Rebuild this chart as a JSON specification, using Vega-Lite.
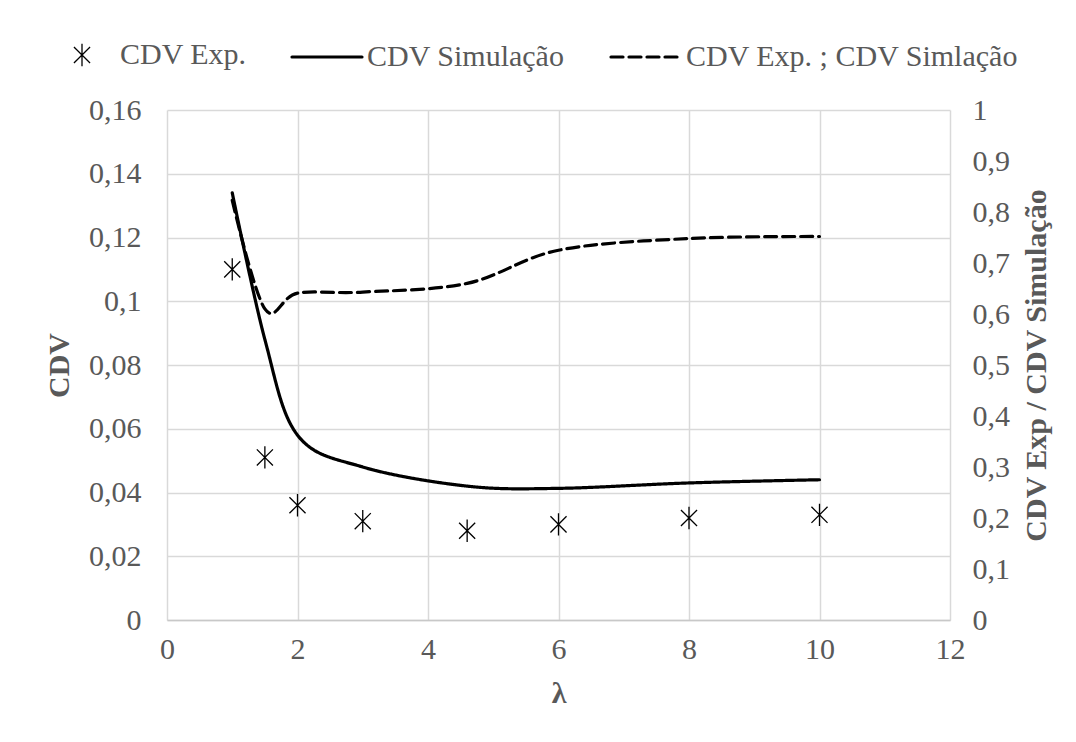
{
  "$schema": "https://vega.github.io/schema/vega-lite/v6.json",
  "autosize": {"type": "none"},
  "padding": {"left": 167, "top": 110, "right": 126, "bottom": 122},
  "width": 783,
  "height": 510,
  "background": "white",
  "data": {"values": [
    {"lambda": 1, "exp": 0.110, "sim": 0.134, "ratio": 0.823},
    {"lambda": 1.5, "exp": 0.051, "sim": 0.088, "ratio": 0.61},
    {"lambda": 2, "exp": 0.036, "sim": 0.058, "ratio": 0.641},
    {"lambda": 3, "exp": 0.031, "sim": 0.048, "ratio": 0.643},
    {"lambda": 4.6, "exp": 0.028, "sim": 0.042, "ratio": 0.66},
    {"lambda": 6, "exp": 0.030, "sim": 0.0413, "ratio": 0.725},
    {"lambda": 8, "exp": 0.032, "sim": 0.043, "ratio": 0.748},
    {"lambda": 10, "exp": 0.033, "sim": 0.044, "ratio": 0.752}
  ]},
  "config": {
    "view": {"stroke": null},
    "font": "Liberation Serif",
    "axis": {
      "labelFont": "Liberation Serif",
      "labelFontSize": 30,
      "labelColor": "#595959",
      "titleFont": "Liberation Serif",
      "titleFontSize": 30,
      "titleFontWeight": "bold",
      "titleColor": "#595959",
      "ticks": false,
      "gridColor": "#d9d9d9",
      "gridWidth": 1.5
    },
    "legend": {
      "labelFont": "Liberation Serif",
      "labelFontSize": 30,
      "labelColor": "#595959",
      "labelLimit": 500,
      "padding": 0
    }
  },
  "resolve": {"scale": {"y": "independent"}},
  "layer": [
    {
      "layer": [
        {
          "mark": {"type": "line", "interpolate": "cardinal", "strokeWidth": 3.2, "color": "black", "strokeCap": "round"},
          "encoding": {
            "x": {"field": "lambda", "type": "quantitative",
              "scale": {"domain": [0, 12], "nice": false},
              "axis": {"values": [0, 2, 4, 6, 8, 10, 12], "format": "d", "title": "λ", "labelPadding": 14, "titlePadding": 14, "domainColor": "#c8c8c8", "domainWidth": 1.5, "labelFlush": false}},
            "y": {"field": "sim", "type": "quantitative",
              "scale": {"domain": [0, 0.16], "nice": false},
              "axis": {"values": [0, 0.02, 0.04, 0.06, 0.08, 0.1, 0.12, 0.14, 0.16], "title": "CDV", "domain": false, "labelPadding": 26, "titlePadding": 14,
                "labelExpr": "replace(format(datum.value, '~g'), '.', ',')"}},
            "strokeDash": {"datum": "CDV Simulação", "type": "nominal",
              "scale": {"domain": ["CDV Simulação", "CDV Exp. ; CDV Simlação"], "range": [[1, 0], [12, 6]]},
              "legend": {"title": null, "orient": "none", "direction": "horizontal", "legendX": 123, "legendY": -90,
                "symbolType": "stroke", "symbolSize": 4900, "symbolStrokeWidth": 3.2, "symbolStrokeColor": "black",
                "labelOffset": 3, "columnPadding": 39,
                "encode": {"symbols": {"update": {"strokeCap": {"value": "round"}}}}}}
          }
        },
        {
          "mark": {"type": "point", "filled": false, "color": "black", "strokeWidth": 1.3, "size": 500, "opacity": 1},
          "encoding": {
            "x": {"field": "lambda", "type": "quantitative"},
            "y": {"field": "exp", "type": "quantitative"},
            "shape": {"datum": "CDV Exp.", "type": "nominal",
              "scale": {"domain": ["CDV Exp."], "range": ["M0,-1L0,1M-0.72,-0.72L0.72,0.72M-0.72,0.72L0.72,-0.72"]},
              "legend": {"title": null, "orient": "none", "direction": "horizontal", "legendX": -100, "legendY": -70,
                "symbolSize": 500, "symbolStrokeWidth": 1.3, "symbolStrokeColor": "black", "labelOffset": 23}}
          }
        }
      ]
    },
    {
      "mark": {"type": "line", "interpolate": "cardinal", "strokeWidth": 3.2, "color": "black", "strokeCap": "round"},
      "encoding": {
        "x": {"field": "lambda", "type": "quantitative"},
        "y": {"field": "ratio", "type": "quantitative",
          "scale": {"domain": [0, 1], "nice": false},
          "axis": {"orient": "right", "values": [0, 0.1, 0.2, 0.3, 0.4, 0.5, 0.6, 0.7, 0.8, 0.9, 1], "grid": false, "domain": false,
            "title": "CDV Exp / CDV Simulação", "titleAngle": 270, "titleBaseline": "top", "labelPadding": 22, "titlePadding": 12,
            "labelExpr": "replace(format(datum.value, '~g'), '.', ',')"}},
        "strokeDash": {"datum": "CDV Exp. ; CDV Simlação", "type": "nominal"}
      }
    }
  ]
}
